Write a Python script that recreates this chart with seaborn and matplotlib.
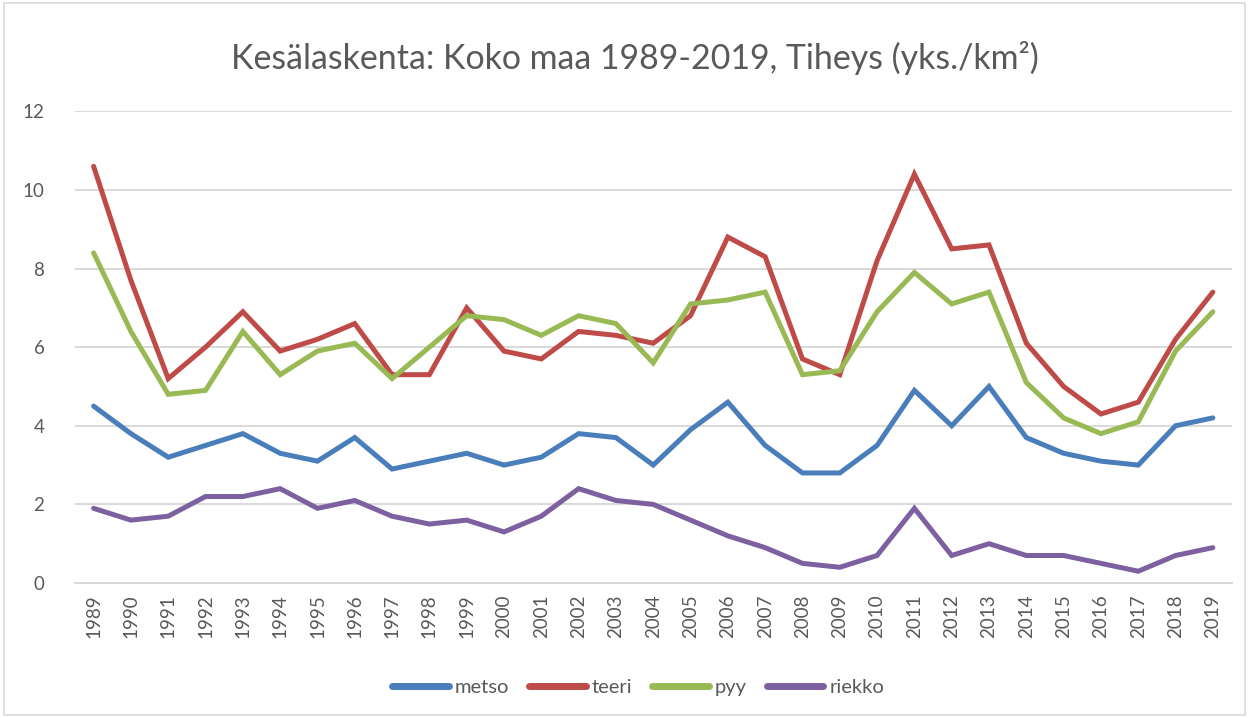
import numpy as np
import pandas as pd
import matplotlib
matplotlib.use("Agg")
import matplotlib.pyplot as plt
import seaborn as sns
from matplotlib.patches import Rectangle

years = list(range(1989, 2020))
metso = [4.5, 3.8, 3.2, 3.5, 3.8, 3.3, 3.1, 3.7, 2.9, 3.1, 3.3, 3.0, 3.2, 3.8, 3.7, 3.0,
         3.9, 4.6, 3.5, 2.8, 2.8, 3.5, 4.9, 4.0, 5.0, 3.7, 3.3, 3.1, 3.0, 4.0, 4.2]
teeri = [10.6, 7.7, 5.2, 6.0, 6.9, 5.9, 6.2, 6.6, 5.3, 5.3, 7.0, 5.9, 5.7, 6.4, 6.3, 6.1,
         6.8, 8.8, 8.3, 5.7, 5.3, 8.2, 10.4, 8.5, 8.6, 6.1, 5.0, 4.3, 4.6, 6.2, 7.4]
pyy = [8.4, 6.4, 4.8, 4.9, 6.4, 5.3, 5.9, 6.1, 5.2, 6.0, 6.8, 6.7, 6.3, 6.8, 6.6, 5.6,
       7.1, 7.2, 7.4, 5.3, 5.4, 6.9, 7.9, 7.1, 7.4, 5.1, 4.2, 3.8, 4.1, 5.9, 6.9]
riekko = [1.9, 1.6, 1.7, 2.2, 2.2, 2.4, 1.9, 2.1, 1.7, 1.5, 1.6, 1.3, 1.7, 2.4, 2.1, 2.0,
          1.6, 1.2, 0.9, 0.5, 0.4, 0.7, 1.9, 0.7, 1.0, 0.7, 0.7, 0.5, 0.3, 0.7, 0.9]

series = {"metso": metso, "teeri": teeri, "pyy": pyy, "riekko": riekko}
colors = {"metso": "#4A7EBB", "teeri": "#BE4B48", "pyy": "#98B954", "riekko": "#7D60A0"}

df = pd.DataFrame({"vuosi": years, **series}).melt(id_vars="vuosi", var_name="laji",
                                                    value_name="tiheys")

sns.set_style("white")
plt.rcParams["font.family"] = ["Lato", "DejaVu Sans"]
txt = "#595959"
grid = "#D9D9D9"

fig = plt.figure(figsize=(12.49, 7.18), dpi=100)
ax = fig.add_axes([0.060, 0.188, 0.926, 0.657])

sns.lineplot(data=df, x="vuosi", y="tiheys", hue="laji", palette=colors,
             linewidth=3.6, ax=ax, legend=True)
for ln in ax.lines:
    ln.set_solid_capstyle("round")
    ln.set_solid_joinstyle("miter")

ax.set_xlim(1988.5, 2019.5)
ax.set_ylim(0, 12)
ax.set_yticks(range(0, 13, 2))
ax.set_xticks(years)
ax.set_xticklabels([str(y) for y in years], rotation=90)
ax.yaxis.grid(True, color=grid, linewidth=1.4)
ax.set_axisbelow(True)
for s in ["top", "right", "left"]:
    ax.spines[s].set_visible(False)
ax.spines["bottom"].set_color(grid)
ax.spines["bottom"].set_linewidth(1.4)
ax.tick_params(axis="both", colors=txt, labelsize=13.5, length=0)
ax.tick_params(axis="x", pad=8)
ax.tick_params(axis="y", pad=22)
ax.set_xlabel("")
ax.set_ylabel("")

fig.suptitle("Kesälaskenta: Koko maa 1989-2019, Tiheys (yks./km²)", fontsize=24.4,
             color=txt, x=0.508, y=0.919, va="center")

leg = ax.legend(loc="center", bbox_to_anchor=(0.511, 0.042), bbox_transform=fig.transFigure,
                ncol=4, frameon=False, fontsize=14.5, handlelength=2.8,
                columnspacing=1.0, handletextpad=0.3)
for t in leg.get_texts():
    t.set_color(txt)
for h in leg.get_lines():
    h.set_linewidth(5)

fig.patches.append(Rectangle((0.003, 0.004), 0.994, 0.992, transform=fig.transFigure,
                             fill=False, edgecolor=grid, linewidth=1.2))

fig.savefig("out.png", dpi=100)
